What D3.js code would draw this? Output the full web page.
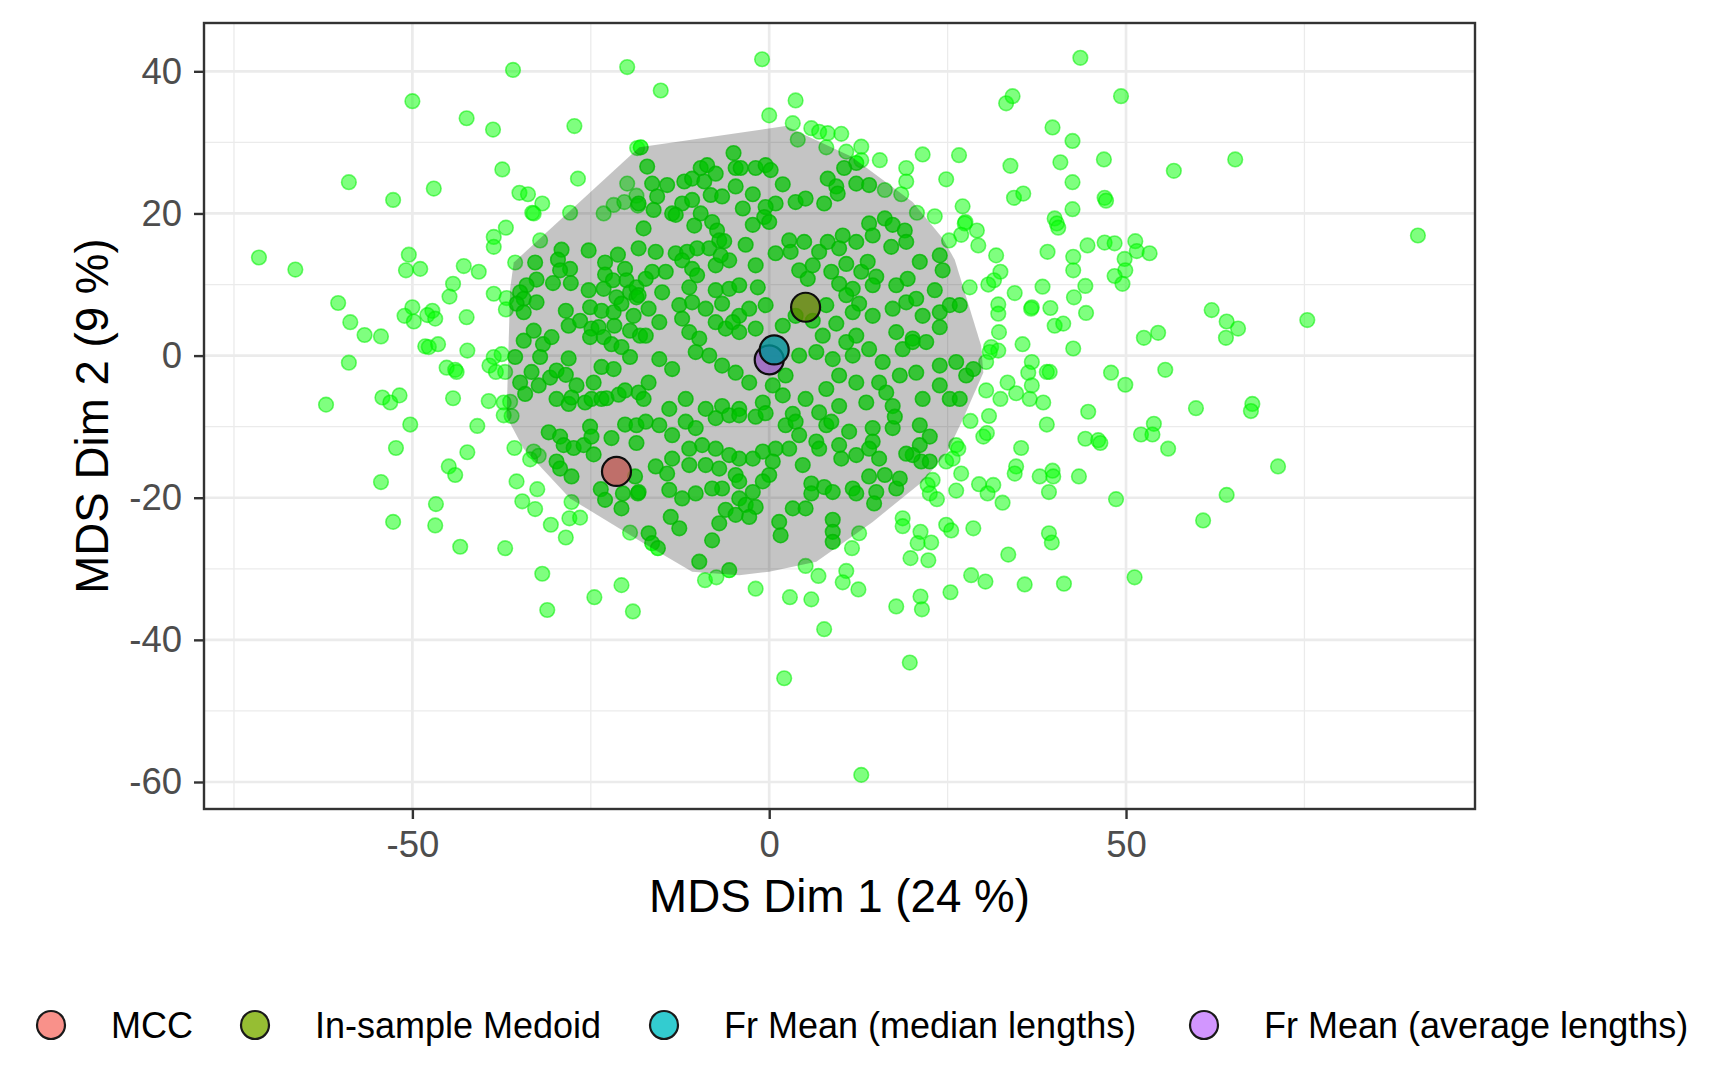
<!DOCTYPE html>
<html>
<head>
<meta charset="utf-8">
<script src="https://cdn.jsdelivr.net/npm/d3@7"></script>
<style>
  body { margin: 0; background: #fff; }
  svg { display: block; font-family: "Liberation Sans", Arial, sans-serif; }
</style>
</head>
<body>
<svg id="chart" width="1710" height="1080"></svg>
<script>
// tree points, split by region
const outerLeft = [[-35.9,40.2],[-19.9,40.6],[-50,35.8],[-42.4,33.4],[-38.7,31.8],[-27.3,32.3],[-18.5,29.2],[-37.4,26.2],[-26.8,24.9],[-58.9,24.4],[-52.7,21.9],[-47.0,23.5],[-35.0,22.9],[-33.8,22.7],[-31.8,21.4],[-33.2,20.1],[-33.0,20.0],[-27.9,20.1],[-23.2,20.0],[-19.9,24.2],[-21.8,21.2],[-20.3,21.6],[-18.6,22.5],[-18.4,21.1],[-36.9,18.0],[-38.6,16.7],[-38.6,15.3],[-32.1,16.2],[-71.5,13.8],[-66.4,12.1],[-50.5,14.2],[-50.9,12.0],[-48.9,12.2],[-42.8,12.6],[-40.7,11.8],[-44.3,10.1],[-44.8,8.3],[-35.6,13.1],[-38.6,8.7],[-36.8,8.1],[-36.9,6.5],[-60.4,7.4],[-58.7,4.7],[-56.7,2.9],[-54.4,2.7],[-50,6.8],[-51.1,5.6],[-49.8,4.8],[-47.2,6.3],[-47.9,5.7],[-46.8,5.2],[-42.4,5.4],[-58.9,-1.0],[-48.2,1.3],[-47.7,1.2],[-46.4,1.6],[-42.3,0.7],[-45.2,-1.7],[-44.0,-2.0],[-43.8,-2.3],[-38.6,-0.2],[-37.5,0.2],[-39.2,-1.4],[-38.3,-2.3],[-37.0,-2.3],[-62.1,-6.9],[-54.2,-5.9],[-53.1,-6.6],[-51.8,-5.6],[-44.3,-6.0],[-39.3,-6.4],[-37.2,-6.6],[-36.3,-6.5],
  [-50.3,-9.7],[-40.9,-9.9],[-52.3,-13.0],[-42.3,-13.6],[-44.9,-15.6],[-44.0,-16.8],[-54.4,-17.8],[-35.7,-13.0],[-33.5,-14.6],[-33.0,-13.5],[-32.3,-14.1],[-35.4,-17.7],[-32.5,-18.8],[-34.6,-20.5],[-32.8,-21.6],[-46.7,-20.9],[-52.7,-23.4],[-46.8,-23.9],[-43.3,-26.9],[-37.0,-27.1],[-30.6,-23.8],[-28.0,-22.9],[-26.5,-22.8],[-28.5,-25.6],[-27.7,-20.6],[-31.8,-30.7],[-31.1,-35.8],[-24.5,-34.0],[-20.7,-32.3],[-19.1,-36.0],[-19.5,-24.9],[-37.2,-8.4],[-36.1,-8.5]];

const coreLeft = [[-29.1,14.9],[-29.6,13.5],[-27.9,12.2],[-29.3,12.0],[-32.8,13.1],[-25.3,14.8],[-21.2,14.2],[-23.0,13.1],[-20.2,12.2],[-23.0,11.4],[-21.9,10.6],[-20.0,10.6],[-30.3,10.2],[-27.8,10.2],[-32.6,10.7],[-34.0,9.9],[-34.9,8.9],[-34.4,8.0],[-32.6,7.5],[-35.4,7.3],[-34.4,6.1],[-28.5,6.3],[-25.3,9.2],[-25.1,6.8],[-23.2,9.4],[-23.5,6.3],[-21.4,8.2],[-19.5,8.9],[-18.6,9.6],[-18.6,8.2],[-20.7,7.3],[-21.8,6.1],[-19.0,5.6],[-28.1,4.2],[-26.5,4.9],[-24.9,3.8],[-23.9,4.0],[-21.7,4.2],[-19.5,3.5],[-18.1,2.8],[-33.0,3.5],[-34.4,2.1],[-31.7,1.6],[-30.5,2.6],[-25.1,2.6],[-23.2,2.6],[-22.1,1.6],[-20.7,1.2],[-19.5,-0.2],[-35.6,-0.2],[-32.1,-0.2],[-28.1,-0.4],[-33.3,-2.3],[-34.9,-3.8],[-32.3,-4.2],[-34.2,-5.4],[-30.7,-3.1],[-29.8,-2.1],[-28.5,-2.7],[-27.0,-4.2],[-24.6,-3.8],[-23.5,-1.6],[-21.8,-1.9],[-29.8,-6.1],[-28.1,-6.8],[-27.7,-5.9],[-25.8,-6.6],[-24.9,-6.1],[-23.5,-6.1],[-22.8,-6.0],[-21.1,-5.5],[-20.2,-4.9],[-18.3,-5.2],
  [-30.9,-10.8],[-29.3,-11.4],[-28.8,-12.6],[-27.4,-13.0],[-26.0,-12.6],[-25.1,-10.0],[-24.9,-11.4],[-24.6,-13.9],[-29.8,-14.9],[-29.3,-15.9],[-27.7,-17.0],[-22.1,-11.6],[-20.2,-9.7],[-18.6,-9.8],[-18.6,-12.3],[-18.8,-17.0],[-23.6,-18.8],[-23.0,-20.3],[-20.5,-19.4],[-20.7,-21.5],[-18.4,-19.4]];

const coreUpper = [[-18.0,29.3],[-5.0,28.5],[-17.1,26.6],[-9.6,26.4],[-8.7,26.8],[-7.5,25.6],[-4.7,26.4],[-4.0,26.4],[-1.9,26.4],[-0.5,26.8],[0.2,26.1],[12.2,27.1],[10.5,26.4],[8.2,24.9],[9.4,23.8],[9.6,22.8],[12.2,24.2],[14.0,24.0],
  [-16.4,24.2],[-14.3,24.0],[-11.9,24.5],[-10.8,24.9],[-9.1,24.5],[-4.7,23.8],[-2.3,22.7],[1.9,24.1],[0.9,21.4],[-0.5,20.9],[3.7,21.6],[5.1,22.1],[7.7,21.4],[-8.2,22.6],[-6.6,22.4],[-3.7,20.7],[-15.7,22.4],[-16.2,20.5],[-18.3,21.4],[-12.2,21.4],[-10.8,21.9],[-13.6,20.0],[-9.6,20.0],
  [-13.1,19.8],[-10.5,18.3],[-8.0,18.8],[-7.3,17.6],[-7.0,16.2],[-8.4,15.1],[-6.3,16.1],[-3.3,15.6],[-2.3,18.4],[-0.7,19.5],[0,18.8],[2.8,16.2],[4.9,16.0],[3.0,14.6],[0.9,14.4],[7.0,14.6],[8.2,16.0],[10.3,16.9],[9.8,15.1],[12.2,16.0],[14.0,18.6],[16.2,19.3],[17.3,18.4],[19.0,17.6],[19.2,16.0],[17.1,15.3],[14.5,16.9],[-17.6,17.9],[-18.3,15.1],[-15.9,14.6],[-13.1,14.4],[-11.5,14.6],[-10.1,15.1],
  [-12.2,13.4],[-10.8,12.2],[-10.1,11.3],[-7.5,12.7],[-5.6,13.4],[-6.8,14.1],[-1.9,12.7],[4.2,12.0],[6.1,12.7],[5.4,10.8],[8.7,11.8],[10.8,12.9],[12.9,11.8],[13.8,13.2],[15.0,11.1],[17.8,9.9],[19.4,10.8],[21.1,13.2],[23.9,14.1],[24.3,12.0],[23.2,9.2],[9.8,10.1],[11.7,9.4],[14.5,9.9],[-16.4,11.8],[-17.3,10.8],[-14.5,11.8],[-11.2,9.6],[-7.5,9.2],[-5.6,9.4],[-4.2,9.9],[-1.6,9.6],[-15.0,8.9],[-18.3,8.5],
  [-16.9,6.6],[-12.6,7.1],[-10.8,7.5],[-8.9,6.6],[-6.6,7.3],[-4.2,5.6],[-2.8,6.6],[-0.5,7.1],[1.9,4.2],[3.7,5.6],[8.0,7.1],[10.8,8.5],[12.6,7.3],[17.3,6.6],[19.2,7.5],[20.6,8.0],[21.5,5.6],[23.9,6.1],[25.3,7.1],[26.7,7.1],[23.9,4.0],[17.8,3.3],[20.1,2.4],[11.7,6.1],[14.5,5.6],[9.4,4.5],[12.2,2.8],[6.1,4.9],[7.5,2.8],[-7.5,4.7],[-6.1,3.8],[-5.1,4.7],[-12.2,5.2],[-15.4,4.7],[-17.3,2.8],[-11.2,3.3],[-9.8,2.4],[-4.2,3.3],[-1.9,3.8]];

const coreLower = [[-15.4,-0.5],[-13.6,-1.9],[-10.3,0.5],[-8.4,0],[-6.6,-1.4],[-4.7,-2.4],[-2.8,-3.8],[0.5,-4.2],[2.3,-2.8],[4.2,0],[6.6,0.5],[8.9,-0.5],[10.8,1.9],[11.7,0],[14.0,0.9],[15.9,-0.9],[18.7,0.9],[20.1,1.9],[22.0,1.9],[23.9,-1.4],[26.2,-0.9],[27.6,-2.8],[28.6,-1.9],[18.3,-2.8],[20.6,-2.4],[15.4,-3.8],[12.2,-3.8],[9.8,-2.8],[8.0,-4.7],[5.1,-6.1],[1.9,-5.6],[-0.9,-6.6],[-4.2,-7.5],[-6.6,-7.1],[-8.9,-7.5],[-11.7,-6.1],[-14.0,-7.5],[-16.9,-3.8],[-17.6,-6.1],[13.6,-6.6],[16.4,-5.2],[17.3,-7.1],[21.5,-6.1],[23.9,-4.2],[25.3,-6.1],[26.7,-6.1],[9.8,-7.1],[7.0,-8.0],[3.3,-8.2],
  [-17.3,-9.3],[-15.4,-9.8],[-13.6,-11.2],[-11.7,-9.3],[-10.3,-10.2],[-7.5,-8.8],[-5.6,-8.4],[-4.2,-8.4],[-1.9,-8.6],[-0.5,-8.1],[2.3,-9.8],[3.7,-9.3],[4.2,-11.2],[6.6,-12.1],[8.0,-9.8],[8.7,-9.3],[9.8,-12.6],[11.2,-10.7],[14.5,-10.2],[14.5,-12.1],[14.0,-13.1],[17.3,-10.2],[17.6,-8.6],[21.1,-9.8],[22.5,-11.4],[21.1,-12.6],[21.3,-14.9],[20.1,-14.0],[22.5,-14.9],[19.2,-13.8],[15.4,-14.5],[12.2,-14.0],[10.1,-14.5],[7.0,-13.1],[4.7,-15.4],[2.8,-13.1],[0.9,-13.1],[0.5,-14.9],[-0.9,-13.5],[-2.3,-14.5],[-4.2,-14.5],[-5.6,-14.0],[-7.5,-13.1],[-9.4,-12.6],[-11.2,-13.1],[-13.6,-14.5],[-15.9,-15.6],[-14.3,-16.6],[-11.2,-15.4],[-8.9,-15.4],[-7.0,-15.9],[-4.7,-16.8],[-4.2,-17.7],[-6.6,-18.7],[-8.0,-18.7],[-10.3,-19.4],[-12.2,-20.1],[-14.0,-18.9],[-18.3,-19.2],[0,-16.8],[-0.9,-17.7],[-2.3,-19.2],[-4.2,-20.1],[-3.3,-21.0],[-1.9,-21.3],[-6.1,-21.7],[-4.7,-22.4],[-2.8,-22.7],[-7.0,-23.6],[-8.0,-26.0],[-12.6,-24.3],[-13.8,-22.7],[-16.9,-25.0],[-16.4,-26.4],[-9.8,-29.0],[-5.6,-30.2],[1.4,-23.4],[1.6,-25.3],[3.3,-21.5],[5.1,-21.5],[5.9,-18.0],[5.9,-19.4],[7.7,-18.5],[8.9,-19.2],[11.7,-18.7],[12.2,-19.4],[14.0,-17.0],[16.2,-16.8],[15.0,-19.2],[14.7,-20.8],[17.8,-18.7],[18.3,-17.3],[8.9,-23.1],[8.9,-24.8],[8.9,-26.2],[-15.6,-27.1]];

const outerRight = [[-1.0,41.7],[-15.2,37.3],[43.6,41.9],[3.7,35.9],[0,33.8],[3.3,32.7],[5.9,32.0],[7.0,31.5],[8.2,31.3],[10.1,31.2],[4.0,30.4],[8.0,29.3],[10.8,28.7],[12.9,29.4],[12.9,27.5],[15.5,27.5],[19.2,26.4],[19.2,24.5],[21.5,28.3],[26.6,28.2],[33.2,35.5],[34.1,36.5],[39.7,32.1],[42.5,30.2],[33.8,26.7],[40.8,27.2],[42.5,24.4],[24.8,24.8],[18.5,22.7],[16.2,23.3],[27.1,21.0],[34.3,22.2],[35.6,22.8],[23.2,19.6],[20.7,20.1],[27.5,18.8],[27.4,18.6],[29.1,17.6],[26.9,17.0],[25.2,16.2],[29.3,15.5],[40.0,19.3],[40.3,18.6],[40.5,18.0],[42.5,20.6],[31.8,14.1],[39.0,14.6],[42.6,13.9],[42.6,12.0],[32.4,11.8],[30.7,10.0],[31.5,10.6],[28.1,9.6],[34.4,8.8],[38.3,9.7],[42.7,8.2],[32.1,7.2],[32.1,5.9],[36.8,6.8],[36.7,6.6],[39.4,6.7],[40.0,4.2],[41.2,4.5],[32.2,3.3],[35.5,1.6],[31.1,1.2],[32.1,0.7],[30.9,0.5],[42.6,1.0],[30.4,-0.9],[36.8,-0.9],[36.3,-2.4],[38.9,-2.3],[39.3,-2.3],[33.4,-3.8],[34.6,-5.3],[30.4,-4.9],[32.4,-6.1],[36.8,-4.2],[36.5,-6.1],[38.4,-6.6],
  [49.3,36.5],[46.9,27.6],[56.7,26.0],[65.3,27.6],[47.0,22.2],[47.2,21.8],[44.6,15.5],[47.0,15.9],[48.4,15.8],[51.3,16.1],[51.5,14.7],[53.3,14.4],[49.8,13.6],[49.9,12.0],[48.4,11.2],[49.5,10.1],[44.3,9.8],[44.4,6.0],[62.0,6.4],[64.1,4.8],[65.7,3.8],[64.0,2.5],[75.4,5.0],[90.9,16.9],[52.5,2.5],[54.5,3.2],[47.9,-2.4],[49.9,-4.1],[55.5,-2.0],[44.7,-7.9],[59.8,-7.4],[67.7,-6.8],[67.5,-7.8],[53.9,-9.6],[52.1,-11.1],[53.7,-11.1],[55.9,-13.1],[44.3,-11.7],[46.1,-11.9],[46.4,-12.3],[48.6,-20.2],[64.1,-19.6],[71.3,-15.6],[60.8,-23.2],[51.2,-31.2]];

const outerLower = [[28.2,-9.2],[30.8,-8.5],[38.9,-9.7],[30.0,-11.4],[30.5,-10.9],[26.2,-12.6],[26.5,-13.1],[35.3,-13.0],[34.6,-15.6],[34.4,-16.6],[37.9,-17.0],[39.7,-16.2],[39.8,-17.0],[39.2,-19.2],[43.4,-17.0],[24.8,-14.9],[25.7,-14.5],[26.9,-16.6],[22.9,-17.5],[22.2,-18.2],[22.5,-19.4],[23.5,-20.2],[26.2,-19.0],[29.4,-18.1],[31.4,-18.2],[30.6,-19.4],[32.7,-20.7],[18.7,-22.9],[18.7,-24.0],[21.2,-24.8],[20.8,-26.4],[22.7,-26.3],[19.8,-28.5],[22.3,-28.8],[24.8,-23.8],[25.5,-24.6],[28.6,-24.3],[33.5,-28.0],[39.2,-25.0],[39.6,-26.3],[12.6,-25.0],[11.6,-27.1],[10.8,-30.3],[10.3,-31.9],[12.5,-32.9],[6.9,-31.0],[5.1,-29.6],[-1.9,-32.8],[2.9,-34.0],[5.9,-34.3],[7.7,-38.5],[17.8,-35.3],[21.2,-33.9],[21.4,-35.7],[25.4,-33.3],[28.3,-30.9],[30.3,-31.8],[35.8,-32.2],[41.3,-32.1],[19.7,-43.2],[2.1,-45.4],[12.9,-59.0],[-9.0,-31.6],[-7.4,-31.2]];

// hull outline of the central 95% of trees
const hull = [[-18.2,29.3],[2.3,32.3],[11.5,28.0],[20.1,21.6],[24.3,16.5],[26.0,13.5],[29.7,1.4],[30.0,-2.4],[27.2,-8.8],[25.0,-13.5],[21.5,-17.7],[14.5,-23.4],[6.6,-29.0],[0,-30.4],[-4.2,-30.9],[-10.8,-30.4],[-17.6,-26.4],[-27.9,-20.1],[-34.4,-13.1],[-36.8,-8.6],[-36.3,9.4],[-35.8,13.1]];

const summaryNames = ['MCC', 'In-sample Medoid', 'Fr Mean (median lengths)', 'Fr Mean (average lengths)'];
const summaryX = [-21.4, 5.1, 0.7, 0.0];
const summaryY = [-16.3, 6.8, 0.8, -0.6];
const summaryColors = ['#F8766D', '#7CAE00', '#00BFC4', '#C77CFF'];
const drawOrder = [0, 1, 3, 2];

const xTicks = [-50, 0, 50];
const xMinor = [-75, -25, 25, 75];
const yTicks = [-60, -40, -20, 0, 20, 40];
const yMinor = [-50, -30, -10, 10, 30];

const outerTrees = [].concat(outerLeft, outerRight, outerLower);
const coreTrees = [].concat(coreLeft, coreUpper, coreLower);

const svg = d3.select('#chart');
const panel = { left: 204, top: 23, right: 1475, bottom: 809 };

const x = d3.scaleLinear().domain([-79.2, 98.9]).range([panel.left, panel.right]);
const y = d3.scaleLinear().domain([-63.8, 46.8]).range([panel.bottom, panel.top]);

const grid = svg.append('g');
grid.selectAll('.xminor').data(xMinor).enter().append('line')
    .attr('x1', d => x(d)).attr('x2', d => x(d))
    .attr('y1', panel.top).attr('y2', panel.bottom)
    .attr('stroke', '#EBEBEB').attr('stroke-width', 1.3);
grid.selectAll('.yminor').data(yMinor).enter().append('line')
    .attr('y1', d => y(d)).attr('y2', d => y(d))
    .attr('x1', panel.left).attr('x2', panel.right)
    .attr('stroke', '#EBEBEB').attr('stroke-width', 1.3);
grid.selectAll('.xmajor').data(xTicks).enter().append('line')
    .attr('x1', d => x(d)).attr('x2', d => x(d))
    .attr('y1', panel.top).attr('y2', panel.bottom)
    .attr('stroke', '#EBEBEB').attr('stroke-width', 2.7);
grid.selectAll('.ymajor').data(yTicks).enter().append('line')
    .attr('y1', d => y(d)).attr('y2', d => y(d))
    .attr('x1', panel.left).attr('x2', panel.right)
    .attr('stroke', '#EBEBEB').attr('stroke-width', 2.7);

function drawTrees(points, alpha) {
    svg.append('g').selectAll('circle')
        .data(points)
        .enter()
        .append('circle')
        .attr('cx', d => x(d[0]))
        .attr('cy', d => y(d[1]))
        .attr('r', 7.3)
        .attr('fill', '#00FF00')
        .attr('fill-opacity', alpha)
        .attr('stroke', '#00EE00')
        .attr('stroke-opacity', alpha + 0.05)
        .attr('stroke-width', 1.6);
}
drawTrees(outerTrees, 0.5);
drawTrees(coreTrees, 0.72);

svg.append('g').selectAll('circle')
    .data(drawOrder)
    .enter()
    .append('circle')
    .attr('cx', i => x(summaryX[i]))
    .attr('cy', i => y(summaryY[i]))
    .attr('r', 14.5)
    .attr('fill', i => summaryColors[i])
    .attr('fill-opacity', 0.8)
    .attr('stroke', '#111')
    .attr('stroke-width', 2.2);

// hull sits on top and darkens what is under it
svg.append('path')
    .datum(hull)
    .attr('d', d3.line().x(d => x(d[0])).y(d => y(d[1])).curve(d3.curveLinearClosed))
    .attr('fill', '#000')
    .attr('fill-opacity', 0.23);

svg.append('rect')
    .attr('x', panel.left).attr('y', panel.top)
    .attr('width', panel.right - panel.left)
    .attr('height', panel.bottom - panel.top)
    .attr('fill', 'none')
    .attr('stroke', '#333333')
    .attr('stroke-width', 2.4);

const xAxis = svg.append('g')
    .attr('transform', `translate(0,${panel.bottom})`)
    .call(d3.axisBottom(x).tickValues(xTicks).tickSize(10).tickPadding(12).tickFormat(d3.format('d')));
const yAxis = svg.append('g')
    .attr('transform', `translate(${panel.left},0)`)
    .call(d3.axisLeft(y).tickValues(yTicks).tickSize(10).tickPadding(12).tickFormat(d3.format('d')));

[xAxis, yAxis].forEach(ax => {
    ax.select('.domain').remove();
    ax.selectAll('.tick line').attr('stroke', '#333333').attr('stroke-width', 2.4);
    ax.selectAll('.tick text')
        .attr('fill', '#4D4D4D')
        .style('font-size', '36.5px')
        .style('font-family', '"Liberation Sans", Arial, sans-serif');
});
xAxis.selectAll('.tick text').text(d => d < 0 ? '-' + Math.abs(d) : d);
yAxis.selectAll('.tick text').text(d => d < 0 ? '-' + Math.abs(d) : d);

svg.append('text')
    .attr('x', (panel.left + panel.right) / 2)
    .attr('y', 912)
    .attr('text-anchor', 'middle')
    .style('font-size', '45.7px')
    .text('MDS Dim 1 (24 %)');

svg.append('text')
    .attr('transform', `translate(108,${(panel.top + panel.bottom) / 2}) rotate(-90)`)
    .attr('text-anchor', 'middle')
    .style('font-size', '45.7px')
    .text('MDS Dim 2 (9 %)');

// legend along the bottom
const legendKeyX = [51, 255, 664, 1204];
const legendY = 1025;
const legend = svg.append('g');
legend.selectAll('circle')
    .data(summaryNames)
    .enter()
    .append('circle')
    .attr('cx', (d, i) => legendKeyX[i])
    .attr('cy', legendY)
    .attr('r', 14)
    .attr('fill', (d, i) => summaryColors[i])
    .attr('fill-opacity', 0.8)
    .attr('stroke', '#1a1a1a')
    .attr('stroke-width', 2.2);
legend.selectAll('text')
    .data(summaryNames)
    .enter()
    .append('text')
    .attr('x', (d, i) => legendKeyX[i] + 60)
    .attr('y', legendY)
    .attr('dy', '0.35em')
    .style('font-size', '36px')
    .text(d => d);
</script>
</body>
</html>
